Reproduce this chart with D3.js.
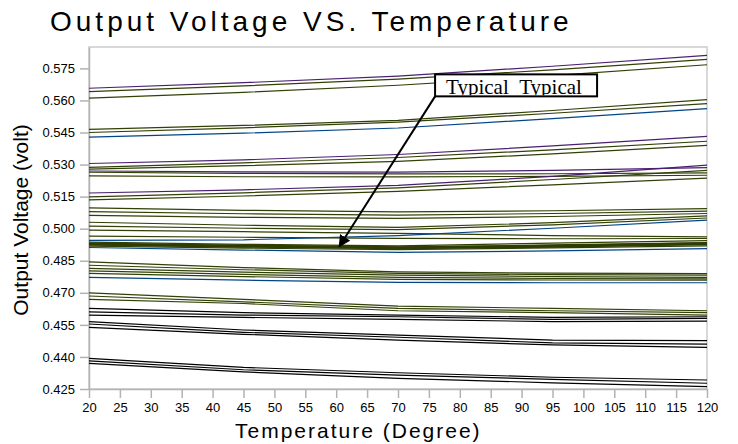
<!DOCTYPE html>
<head><meta charset="utf-8"/></head>
<style>
body { margin: 0; background: #fff; }
svg { font-family: "Liberation Sans", Arial, sans-serif; }
.axis path, .axis line { stroke: #b3b3b3; stroke-width: 1.5; }
.axis text { fill: #000; font-size: 13px; font-family: "Liberation Sans", Arial, sans-serif; }
.frame { fill: none; stroke: #cccccc; stroke-width: 1.5; }
.curve { fill: none; stroke-width: 1.2; }
</style>
<script src="https://d3js.org/d3.v7.min.js"></script>
<body>
<div id="chart"></div>
</body>
<script>

// temperatures where each curve is sampled
var temps = [20, 45, 70, 95, 120];

var xTicks = [20, 25, 30, 35, 40, 45, 50, 55, 60, 65, 70, 75, 80, 85, 90, 95, 100, 105, 110, 115, 120];
var yTicks = [0.425, 0.440, 0.455, 0.470, 0.485, 0.500, 0.515, 0.530, 0.545, 0.560, 0.575];

// output voltage curves, grouped by series family
var oliveCurves = [
    [0.5641, 0.5668, 0.5700, 0.5743, 0.5792],
    [0.5611, 0.5638, 0.5671, 0.5716, 0.5767],
    [0.5465, 0.5483, 0.5507, 0.5553, 0.5604],
    [0.5450, 0.5472, 0.5499, 0.5540, 0.5585],
    [0.5287, 0.5308, 0.5333, 0.5369, 0.5409],
    [0.5279, 0.5295, 0.5315, 0.5350, 0.5390],
    [0.5264, 0.5259, 0.5256, 0.5257, 0.5261],
    [0.5247, 0.5243, 0.5242, 0.5245, 0.5250],
    [0.5149, 0.5168, 0.5191, 0.5230, 0.5273],
    [0.5135, 0.5153, 0.5175, 0.5205, 0.5237],
    [0.5097, 0.5086, 0.5079, 0.5084, 0.5094],
    [0.5080, 0.5070, 0.5063, 0.5071, 0.5082],
    [0.5062, 0.5053, 0.5048, 0.5057, 0.5071],
    [0.5030, 0.5016, 0.5006, 0.5028, 0.5060],
    [0.5012, 0.5002, 0.4996, 0.5018, 0.5050],
    [0.4993, 0.4986, 0.4978, 0.4968, 0.4962],
    [0.4965, 0.4960, 0.4955, 0.4953, 0.4954],
    [0.4937, 0.4927, 0.4920, 0.4932, 0.4944],
    [0.4931, 0.4921, 0.4914, 0.4924, 0.4935],
    [0.4924, 0.4915, 0.4908, 0.4917, 0.4928],
    [0.4918, 0.4909, 0.4902, 0.4910, 0.4920],
    [0.4845, 0.4818, 0.4798, 0.4792, 0.4790],
    [0.4829, 0.4808, 0.4791, 0.4785, 0.4783],
    [0.4814, 0.4797, 0.4783, 0.4776, 0.4772],
    [0.4803, 0.4786, 0.4772, 0.4767, 0.4765],
    [0.4791, 0.4776, 0.4763, 0.4760, 0.4759],
    [0.4700, 0.4669, 0.4638, 0.4627, 0.4616],
    [0.4685, 0.4658, 0.4627, 0.4616, 0.4607],
    [0.4669, 0.4650, 0.4616, 0.4607, 0.4596]
];

// the typical-corner curve the arrow points at
var typicalCurve = [0.4928, 0.4918, 0.4911, 0.4918, 0.4930];

var blackCurves = [
    [0.4627, 0.4607, 0.4596, 0.4585, 0.4588],
    [0.4611, 0.4596, 0.4588, 0.4576, 0.4580],
    [0.4596, 0.4585, 0.4576, 0.4565, 0.4568],
    [0.4565, 0.4526, 0.4502, 0.4479, 0.4476],
    [0.4554, 0.4515, 0.4492, 0.4466, 0.4460],
    [0.4538, 0.4506, 0.4479, 0.4456, 0.4445],
    [0.4393, 0.4351, 0.4326, 0.4305, 0.4292],
    [0.4382, 0.4340, 0.4315, 0.4295, 0.4277],
    [0.4370, 0.4330, 0.4300, 0.4279, 0.4261]
];

var blueCurves = [
    [0.5428, 0.5447, 0.5471, 0.5515, 0.5562],
    [0.4945, 0.4948, 0.4968, 0.5002, 0.5040],
    [0.4912, 0.4900, 0.4889, 0.4896, 0.4907],
    [0.4772, 0.4759, 0.4749, 0.4747, 0.4747]
];

var purpleCurves = [
    [0.5657, 0.5683, 0.5714, 0.5760, 0.5811],
    [0.5305, 0.5322, 0.5347, 0.5387, 0.5432],
    [0.5270, 0.5266, 0.5265, 0.5273, 0.5286],
    [0.5167, 0.5182, 0.5203, 0.5245, 0.5297]
];

// annotation: arrow tip and label box anchor, in data units
var noteText = "Typical_Typical";
var noteTip = {t: 60.5, v: 0.4917};
var noteBox = {t: 76, v: 0.5722};

var margin = {top: 47, left: 89, right: 31, bottom: 55},
    width = 738 - margin.left - margin.right,
    height = 444 - margin.top - margin.bottom;

var svg = d3.select("#chart")
    .append("svg")
    .attr("width", 738)
    .attr("height", 444);

var g = svg.append("g")
    .attr("transform", "translate(" + margin.left + "," + margin.top + ")");

var x = d3.scaleLinear().domain([20, 120]).range([0, width]);
var y = d3.scaleLinear().domain([0.425, 0.585]).range([height, 0]);

g.append("rect")
    .attr("class", "frame")
    .attr("width", width)
    .attr("height", height);

var xAxis = g.append("g")
    .attr("class", "axis")
    .attr("transform", "translate(0," + height + ")")
    .call(d3.axisBottom(x).tickValues(xTicks).tickSize(9).tickPadding(5).tickSizeOuter(0));

var yAxis = g.append("g")
    .attr("class", "axis")
    .call(d3.axisLeft(y).tickValues(yTicks).tickSize(9).tickPadding(5).tickSizeOuter(0)
        .tickFormat(d3.format(".3f")));

g.selectAll(".axis").attr("font-family", null).attr("font-size", null);

var line = d3.line()
    .x(function(d, i) { return x(temps[i]); })
    .y(function(d) { return y(d); });

function drawCurves(data, color, w) {
    g.append("g").selectAll("path")
        .data(data)
        .enter().append("path")
        .attr("class", "curve")
        .attr("stroke", color)
        .style("stroke-width", w)
        .attr("d", line);
}

drawCurves(oliveCurves, "#314004", 1.2);
drawCurves([typicalCurve], "#2f3d03", 3);
drawCurves(blackCurves, "#000000", 1.2);
drawCurves(blueCurves, "#004586", 1.2);
drawCurves(purpleCurves, "#4b1f6f", 1.2);

// titles
svg.append("text")
    .attr("x", 50)
    .attr("y", 31)
    .style("font-size", "28px")
    .style("letter-spacing", "4px")
    .text("Output Voltage VS. Temperature");

svg.append("text")
    .attr("x", 235)
    .attr("y", 438)
    .style("font-size", "21px")
    .style("letter-spacing", "2px")
    .text("Temperature (Degree)");

svg.append("text")
    .attr("transform", "translate(28,220) rotate(-90)")
    .attr("text-anchor", "middle")
    .style("font-size", "21px")
    .text("Output Voltage (volt)");

// annotation
svg.append("defs").append("marker")
    .attr("id", "arrow")
    .attr("viewBox", "0 0 10 10")
    .attr("refX", 9)
    .attr("refY", 5)
    .attr("markerWidth", 6)
    .attr("markerHeight", 6)
    .attr("orient", "auto")
    .attr("markerUnits", "strokeWidth")
    .append("path")
    .attr("d", "M0,0 L10,5 L0,10 z")
    .attr("fill", "#000");

var bx = x(noteBox.t), by = y(noteBox.v), bw = 162, bh = 22;

g.append("line")
    .attr("x1", bx)
    .attr("y1", by + bh)
    .attr("x2", x(noteTip.t))
    .attr("y2", y(noteTip.v))
    .attr("stroke", "#000")
    .attr("stroke-width", 2)
    .attr("marker-end", "url(#arrow)");

g.append("clipPath").attr("id", "noteClip")
    .append("rect")
    .attr("x", bx).attr("y", by)
    .attr("width", bw).attr("height", bh - 1);

g.append("rect")
    .attr("x", bx).attr("y", by)
    .attr("width", bw).attr("height", bh)
    .attr("fill", "#fff");

g.append("text")
    .attr("clip-path", "url(#noteClip)")
    .attr("x", bx + 11)
    .attr("y", by + 20)
    .style("font-family", "'Liberation Serif', 'Times New Roman', serif")
    .style("font-size", "21px")
    .text(noteText);

g.append("rect")
    .attr("x", bx).attr("y", by)
    .attr("width", bw).attr("height", bh)
    .attr("fill", "none")
    .attr("stroke", "#000")
    .attr("stroke-width", 2);

</script>
